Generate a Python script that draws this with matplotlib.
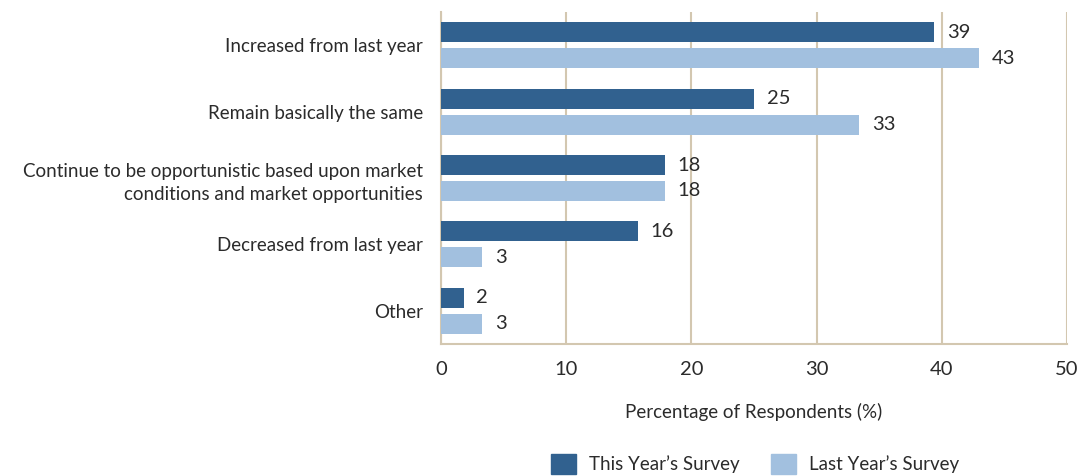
import matplotlib.pyplot as plt
from matplotlib.patches import Patch
import numpy as np

categories = ["Increased from last year",
              "Remain basically the same",
              "Continue to be opportunistic based upon market\nconditions and market opportunities",
              "Decreased from last year",
              "Other"]
this_year = [39.4, 25.0, 17.9, 15.7, 1.8]
last_year = [43.0, 33.4, 17.9, 3.3, 3.3]
series_names = ["This Year\u2019s Survey", "Last Year\u2019s Survey"]
xticks = [0, 10, 20, 30, 40, 50]

dark = "#31618F"
light = "#A2C0DF"
tan = "#D3C7B0"
txt = "#2b2b2b"

plt.rcParams['font.family'] = ['Lato', 'DejaVu Sans']

fig = plt.figure(figsize=(10.82, 4.76), dpi=100)
ax = fig.add_axes([0.4076, 0.2773, 0.5785, 0.6975])

y = np.arange(len(categories))
h = 0.30
off = 0.195
ax.barh(y - off, this_year, height=h, color=dark, zorder=3)
ax.barh(y + off, last_year, height=h, color=light, zorder=3)

for yy, v in zip(y - off, this_year):
    ax.text(v + 1.0, yy, "{:.0f}".format(v), va="center", ha="left", fontsize=14.5, color=txt)
for yy, v in zip(y + off, last_year):
    ax.text(v + 1.0, yy, "{:.0f}".format(v), va="center", ha="left", fontsize=14.5, color=txt)

ax.set_xlim(0, 50)
ax.set_ylim(len(categories) - 0.5, -0.5)
ax.set_xticks(xticks)
ax.set_xticklabels([str(t) for t in xticks], fontsize=14.5, color=txt)
ax.set_yticks(y)
ax.set_yticklabels(categories, fontsize=13.5, color=txt, linespacing=1.45)
ax.tick_params(axis="both", length=0)
ax.tick_params(axis="x", pad=12)
ax.tick_params(axis="y", pad=13)

ax.grid(axis="x", color=tan, linewidth=1.5, zorder=0)
for s in ["top", "right"]:
    ax.spines[s].set_visible(False)
ax.spines["left"].set_color(tan)
ax.spines["left"].set_linewidth(1.5)
ax.spines["bottom"].set_color(tan)
ax.spines["bottom"].set_linewidth(1.5)

ax.set_xlabel("Percentage of Respondents (%)", fontsize=13.5, color=txt, labelpad=18)

handles = [Patch(color=dark), Patch(color=light)]
fig.legend(handles, series_names, loc="center", bbox_to_anchor=(0.698, 0.025), ncol=2,
           frameon=False, fontsize=13.5, handlelength=1.3, handleheight=1.3,
           columnspacing=1.7, handletextpad=0.7, labelcolor=txt)

fig.savefig("out.png", dpi=100)
